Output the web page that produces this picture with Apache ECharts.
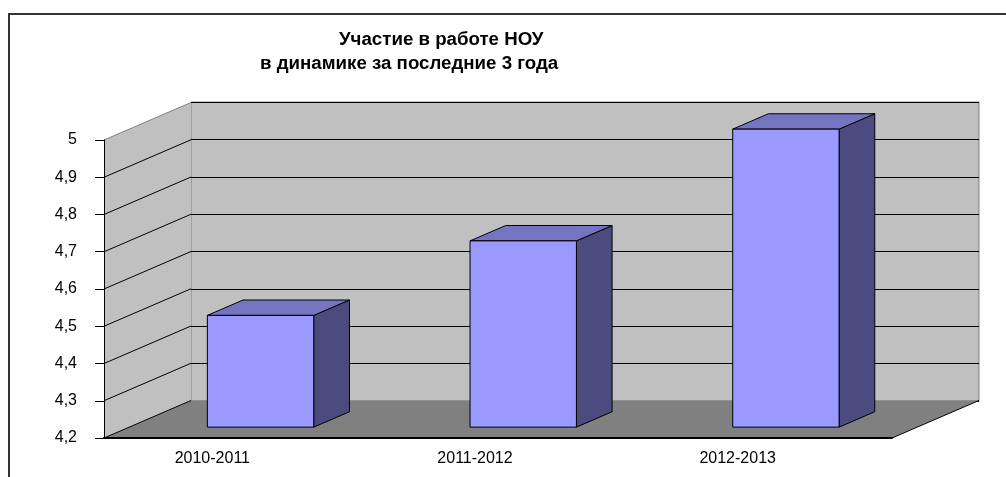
<!DOCTYPE html>
<html>
<head>
<meta charset="utf-8">
<script src="https://cdn.jsdelivr.net/npm/echarts@6/dist/echarts.min.js"></script>
<style>
html, body { margin: 0; padding: 0; background: #fff; }
#chart { position: absolute; left: 0; top: 0; width: 1006px; height: 477px; }
#frame { position: absolute; left: 8px; top: 13px; right: 0; bottom: 0;
  border-top: 2px solid #333; border-left: 2px solid #333; pointer-events: none; }
</style>
</head>
<body>
<div id="chart"></div>
<div id="frame"></div>
<script>
const titleLines = ['Участие в работе НОУ', 'в динамике за последние 3 года'];
const years = ['2010-2011', '2011-2012', '2012-2013'];
const values = [4.5, 4.7, 5.0];
const yMin = 4.2, yMax = 5, yStep = 0.1;

// 3d look: back wall offset in px, bar placement as share of the depth
const DEPTH_X = 87, DEPTH_Y = -37.5;
const BAR_OFF = 0.29;
const BAR_DEPTH = 0.41;
const BAR_W = 0.405;

const FONT = "'Liberation Sans', Arial, sans-serif";
const fmt = (v) => String(Math.round(v * 10) / 10).replace('.', ',');

const chart = echarts.init(document.getElementById('chart'), null, { renderer: 'canvas' });

function renderWalls(params, api) {
  const cs = params.coordSys;
  const L = cs.x, R = cs.x + cs.width, T = cs.y, B = cs.y + cs.height;
  const children = [];
  // side wall
  children.push({
    type: 'polygon',
    shape: { points: [[L, B], [L, T], [L + DEPTH_X, T + DEPTH_Y], [L + DEPTH_X, B + DEPTH_Y]] },
    style: { fill: '#C0C0C0', stroke: null }
  });
  // floor
  children.push({
    type: 'polygon',
    shape: { points: [[L, B], [R, B], [R + DEPTH_X, B + DEPTH_Y], [L + DEPTH_X, B + DEPTH_Y]] },
    style: { fill: '#808080', stroke: null }
  });
  children.push({
    type: 'line',
    shape: { x1: R, y1: B, x2: R + DEPTH_X, y2: B + DEPTH_Y },
    style: { stroke: '#000', lineWidth: 1 }
  });
  // diagonal grid lines on the side wall
  for (let v = yMin; v <= yMax + 1e-9; v += yStep) {
    const y = api.coord([0, v])[1];
    const top = Math.abs(v - yMax) < 1e-9;
    children.push({
      type: 'line',
      shape: { x1: L, y1: y, x2: L + DEPTH_X, y2: y + DEPTH_Y },
      style: { stroke: top ? '#808080' : '#000', lineWidth: 1 }
    });
  }
  return { type: 'group', children: children };
}

function renderBar(params, api) {
  const p = api.coord([api.value(0), api.value(1)]);
  const b = api.coord([api.value(0), yMin]);
  const w = api.size([1, 0])[0] * BAR_W;
  const ox = DEPTH_X * BAR_OFF, oy = DEPTH_Y * BAR_OFF;
  const sx = DEPTH_X * BAR_DEPTH, sy = DEPTH_Y * BAR_DEPTH;
  const x0 = p[0] + ox - w / 2, x1 = x0 + w;
  const yt = p[1] + oy, yb = b[1] + oy;
  const edge = { stroke: '#000', lineWidth: 1 };
  return {
    type: 'group',
    children: [
      { type: 'polygon', shape: { points: [[x1, yt], [x1 + sx, yt + sy], [x1 + sx, yb + sy], [x1, yb]] },
        style: Object.assign({ fill: '#4B4B80' }, edge) },
      { type: 'polygon', shape: { points: [[x0, yt], [x1, yt], [x1 + sx, yt + sy], [x0 + sx, yt + sy]] },
        style: Object.assign({ fill: '#7474C0' }, edge) },
      { type: 'polygon', shape: { points: [[x0, yt], [x1, yt], [x1, yb], [x0, yb]] },
        style: Object.assign({ fill: '#9999FF' }, edge) }
    ]
  };
}

const option = {
  animation: false,
  backgroundColor: '#fff',
  title: [
    { text: titleLines[0], left: 339, top: 30, padding: 0,
      textStyle: { fontFamily: FONT, fontSize: 18.7, fontWeight: 'bold', color: '#000' } },
    { text: titleLines[1], left: 260, top: 54, padding: 0,
      textStyle: { fontFamily: FONT, fontSize: 18.7, fontWeight: 'bold', color: '#000' } }
  ],
  grid: [
    // front plane
    { left: 104, right: 114, top: 140, bottom: 39 },
    // back wall
    { left: 191, right: 27, top: 102, bottom: 76, show: true,
      backgroundColor: '#C0C0C0', borderColor: '#808080', borderWidth: 1, z: 0 }
  ],
  xAxis: [
    { type: 'category', gridIndex: 0, data: years, z: 10,
      axisLine: { lineStyle: { color: '#000', width: 2 } },
      axisTick: { length: 4, lineStyle: { color: '#000' } },
      axisLabel: { fontFamily: FONT, fontSize: 16, color: '#000', margin: 13, padding: [0, 46, 0, 0] } },
    { type: 'category', gridIndex: 1, data: years, show: false }
  ],
  yAxis: [
    { type: 'value', gridIndex: 0, min: yMin, max: yMax, interval: yStep, z: 10,
      axisLine: { show: true, lineStyle: { color: '#000', width: 1 } },
      axisTick: { show: true, length: 9, lineStyle: { color: '#000' } },
      splitLine: { show: false },
      axisLabel: { fontFamily: FONT, fontSize: 16, color: '#000', margin: 27, formatter: fmt } },
    { type: 'value', gridIndex: 1, min: yMin, max: yMax, interval: yStep,
      axisLine: { show: false }, axisTick: { show: false }, axisLabel: { show: false },
      splitLine: { show: true, lineStyle: { color: '#000', width: 1 } } }
  ],
  series: [
    { type: 'custom', name: 'walls', xAxisIndex: 0, yAxisIndex: 0, z: 1,
      data: [[0, yMin]], renderItem: renderWalls, silent: true },
    { type: 'custom', name: 'НОУ', xAxisIndex: 0, yAxisIndex: 0, z: 2,
      data: values.map((v, i) => [i, v]), encode: { x: 0, y: 1 }, renderItem: renderBar }
  ]
};
chart.setOption(option);
</script>
</body>
</html>
